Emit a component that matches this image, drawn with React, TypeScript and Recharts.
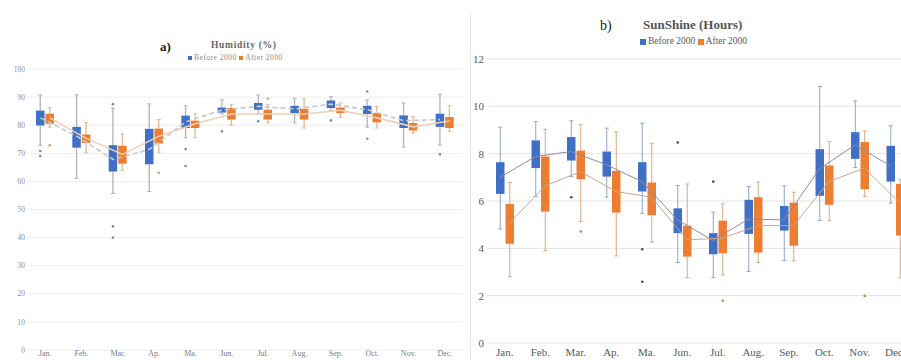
import React from "react";
import { ComposedChart, Bar, Line, XAxis, YAxis, CartesianGrid } from "recharts";

const months = ["Jan.", "Feb.", "Mar.", "Ap.", "Ma.", "Jun.", "Jul.", "Aug.", "Sep.", "Oct.", "Nov.", "Dec."];

// a) Humidity (%)
const humBeforeMin = [72.8, 61.1, 55.7, 56.4, 75.5, 84.0, 84.0, 80.8, 85.2, 79.3, 72.2, 72.9];
const humBeforeQ1 = [79.9, 72.0, 63.5, 66.1, 79.0, 84.5, 85.5, 84.3, 86.1, 84.0, 79.0, 79.4];
const humBeforeQ3 = [85.2, 79.4, 72.9, 78.7, 83.4, 86.3, 87.9, 86.9, 88.8, 86.9, 83.5, 84.1];
const humBeforeMax = [90.8, 90.8, 86.1, 87.6, 86.9, 89.0, 90.8, 89.6, 90.2, 89.0, 87.9, 91.0];
const humBeforeMean = [82.6, 76.1, 67.8, 71.4, 81.2, 85.4, 86.7, 85.8, 87.5, 85.5, 81.6, 82.0];
const humBeforeOut = [[70.8, 69.0], [], [87.5, 44.0, 40.0], [], [71.5, 65.5], [77.8], [81.4], [], [81.7], [92.0, 75.2], [], [69.6]];

const humAfterMin = [79.3, 70.2, 64.0, 70.4, 75.5, 80.0, 80.8, 79.0, 82.8, 79.0, 77.2, 77.8];
const humAfterQ1 = [80.5, 73.7, 66.3, 73.5, 79.0, 82.0, 82.0, 82.0, 84.3, 81.0, 78.1, 79.0];
const humAfterQ3 = [84.1, 76.7, 72.7, 78.8, 81.6, 86.1, 85.5, 85.8, 86.3, 84.3, 80.8, 82.9];
const humAfterMax = [86.3, 81.0, 76.9, 82.0, 84.0, 87.3, 87.3, 89.4, 87.9, 86.7, 83.1, 87.0];
const humAfterMean = [82.6, 75.3, 69.6, 76.1, 80.5, 84.0, 84.0, 84.0, 85.3, 82.6, 79.4, 81.5];
const humAfterOut = [[72.9], [], [], [63.1], [], [], [89.4], [], [], [], [], []];

// b) SunShine (Hours)
const sunBeforeMin = [4.82, 6.19, 7.03, 6.16, 5.48, 3.4, 2.76, 3.02, 3.48, 5.17, 7.41, 5.91];
const sunBeforeQ1 = [6.3, 7.39, 7.71, 7.03, 6.4, 4.64, 3.75, 4.61, 4.75, 6.22, 7.78, 6.82];
const sunBeforeQ3 = [7.64, 8.56, 8.7, 8.09, 7.64, 5.69, 4.64, 6.05, 5.79, 8.19, 8.91, 8.33];
const sunBeforeMax = [9.12, 9.36, 9.39, 9.08, 9.29, 6.65, 5.53, 6.61, 6.64, 10.84, 10.23, 9.18];
const sunBeforeMean = [7.0, 7.88, 8.09, 7.53, 6.82, 5.2, 4.33, 5.24, 5.2, 7.36, 8.37, 7.48];
const sunBeforeOut = [[], [], [6.16], [], [3.96, 2.59], [8.47], [6.82], [], [], [], [], []];

const sunAfterMin = [2.8, 3.9, 5.13, 3.68, 4.26, 2.76, 2.88, 3.4, 3.47, 5.17, 6.19, 2.75];
const sunAfterQ1 = [4.19, 5.55, 6.92, 5.51, 5.4, 3.65, 3.79, 3.82, 4.11, 5.84, 6.5, 4.54];
const sunAfterQ3 = [5.88, 7.88, 8.13, 7.27, 6.78, 4.96, 5.17, 6.16, 5.93, 7.5, 8.49, 6.72];
const sunAfterMax = [6.78, 9.03, 9.22, 8.91, 8.44, 6.72, 5.88, 6.8, 6.37, 8.51, 8.96, 6.9];
const sunAfterMean = [5.06, 6.64, 7.24, 6.4, 6.16, 4.36, 4.43, 4.96, 4.96, 6.82, 7.39, 5.9];
const sunAfterOut = [[], [], [4.71], [], [], [], [1.78], [], [], [], [1.99], []];

const humTicks = [0, 10, 20, 30, 40, 50, 60, 70, 80, 90, 100];
const sunTicks = [0, 2, 4, 6, 8, 10, 12];

const BLUE = "#4070c6";
const ORANGE = "#ed7d31";
const FONT = "'Liberation Serif', 'Times New Roman', serif";

type Stats = { min: number[]; q1: number[]; q3: number[]; max: number[]; mean: number[]; out: number[][] };

function buildRows(b: Stats, a: Stats) {
  return months.map((m, i) => ({
    month: m,
    idx: i,
    bRange: [b.min[i], b.max[i]],
    bMin: b.min[i], bQ1: b.q1[i], bQ3: b.q3[i], bMax: b.max[i], bMean: b.mean[i], bOut: b.out[i],
    aRange: [a.min[i], a.max[i]],
    aMin: a.min[i], aQ1: a.q1[i], aQ3: a.q3[i], aMax: a.max[i], aMean: a.mean[i], aOut: a.out[i],
  }));
}

const humRows = buildRows(
  { min: humBeforeMin, q1: humBeforeQ1, q3: humBeforeQ3, max: humBeforeMax, mean: humBeforeMean, out: humBeforeOut },
  { min: humAfterMin, q1: humAfterQ1, q3: humAfterQ3, max: humAfterMax, mean: humAfterMean, out: humAfterOut }
);
const sunRows = buildRows(
  { min: sunBeforeMin, q1: sunBeforeQ1, q3: sunBeforeQ3, max: sunBeforeMax, mean: sunBeforeMean, out: sunBeforeOut },
  { min: sunAfterMin, q1: sunAfterQ1, q3: sunAfterQ3, max: sunAfterMax, mean: sunAfterMean, out: sunAfterOut }
);

// the range bar spans min..max; everything else is placed on that same linear mapping
function BoxShape(props: any) {
  const { x, y, width, height, payload, pre, fill, whisker, whiskerWidth, dotColor } = props;
  const lo = payload[pre + "Min"];
  const hi = payload[pre + "Max"];
  const top = Math.min(y, y + height);
  const bot = Math.max(y, y + height);
  const py = (v: number) => bot - ((bot - top) * (v - lo)) / (hi - lo);
  const cx = x + width / 2;
  const yq1 = py(payload[pre + "Q1"]);
  const yq3 = py(payload[pre + "Q3"]);
  const outs: number[] = payload[pre + "Out"] || [];
  return (
    <g>
      <line x1={cx} x2={cx} y1={top} y2={yq3} stroke={whisker} strokeWidth={whiskerWidth} />
      <line x1={cx} x2={cx} y1={yq1} y2={bot} stroke={whisker} strokeWidth={whiskerWidth} />
      <line x1={cx - 2} x2={cx + 2} y1={top} y2={top} stroke={whisker} strokeWidth={1} />
      <line x1={cx - 2} x2={cx + 2} y1={bot} y2={bot} stroke={whisker} strokeWidth={1} />
      <rect x={x} y={yq3} width={width} height={yq1 - yq3} fill={fill} />
      {outs.map((v, k) => (
        <circle key={k} cx={cx} cy={py(v)} r={1.3} fill={dotColor} />
      ))}
    </g>
  );
}

const BAR = 8.5;
const GAP = 1;

function Panel(p: {
  rows: any[];
  width: number;
  height: number;
  margin: any;
  yWidth: number;
  plotWidth: number;
  domain: [number, number];
  ticks: number[];
  tickFont: number;
  tickColor: string;
  xFont: number;
  xColor: string;
  xMargin: number;
  yMargin: number;
  grid: string;
  whiskerB: string;
  whiskerA: string;
  whiskerWidth: number;
  dotB: string;
  dotA: string;
  lineB: string;
  lineA: string;
  lineWidth: number;
  dashB?: string;
}) {
  const shift = (BAR + GAP) / 2 / (p.plotWidth / 12);
  return (
    <ComposedChart width={p.width} height={p.height} data={p.rows} margin={p.margin} barGap={GAP}>
      <CartesianGrid xAxisId="cat" vertical={false} stroke={p.grid} />
      <XAxis
        xAxisId="cat"
        dataKey="month"
        interval={0}
        tickLine={false}
        axisLine={false}
        tickSize={0}
        tickMargin={p.xMargin}
        height={20}
        tick={{ fontSize: p.xFont, fill: p.xColor, fontFamily: FONT }}
      />
      <XAxis xAxisId="xb" type="number" dataKey="idx" domain={[-0.5 + shift, 11.5 + shift]} allowDataOverflow hide />
      <XAxis xAxisId="xa" type="number" dataKey="idx" domain={[-0.5 - shift, 11.5 - shift]} allowDataOverflow hide />
      <YAxis
        domain={p.domain}
        ticks={p.ticks}
        interval={0}
        width={p.yWidth}
        tickLine={false}
        axisLine={false}
        tickSize={0}
        tickMargin={p.yMargin}
        tick={{ fontSize: p.tickFont, fill: p.tickColor, fontFamily: FONT }}
      />
      <Bar
        xAxisId="cat"
        dataKey="bRange"
        barSize={BAR}
        fill={BLUE}
        isAnimationActive={false}
        shape={(s: any) => (
          <BoxShape {...s} pre="b" fill={BLUE} whisker={p.whiskerB} whiskerWidth={p.whiskerWidth} dotColor={p.dotB} />
        )}
      />
      <Bar
        xAxisId="cat"
        dataKey="aRange"
        barSize={BAR}
        fill={ORANGE}
        isAnimationActive={false}
        shape={(s: any) => (
          <BoxShape {...s} pre="a" fill={ORANGE} whisker={p.whiskerA} whiskerWidth={p.whiskerWidth} dotColor={p.dotA} />
        )}
      />
      <Line
        xAxisId="xb"
        dataKey="bMean"
        stroke={p.lineB}
        strokeWidth={p.lineWidth}
        strokeDasharray={p.dashB}
        dot={false}
        activeDot={false}
        isAnimationActive={false}
      />
      <Line
        xAxisId="xa"
        dataKey="aMean"
        stroke={p.lineA}
        strokeWidth={p.lineWidth}
        dot={false}
        activeDot={false}
        isAnimationActive={false}
      />
    </ComposedChart>
  );
}

function Swatch({ color, size }: { color: string; size: number }) {
  return (
    <span
      style={{ display: "inline-block", width: size, height: size, background: color, marginRight: 2, verticalAlign: "middle" }}
    />
  );
}

export default function App() {
  const abs = (left: number, top: number, extra: any = {}) => ({
    position: "absolute" as const,
    left,
    top,
    whiteSpace: "nowrap" as const,
    fontFamily: FONT,
    lineHeight: 1,
    ...extra,
  });
  return (
    <div style={{ position: "relative", width: 901, height: 360, overflow: "hidden", background: "#fff" }}>
      <style>{"body{margin:0}"}</style>

      <div style={{ position: "absolute", left: 0, top: 0 }}>
        <Panel
          rows={humRows}
          width={466}
          height={370}
          margin={{ top: 69, right: 3, bottom: 0, left: 0 }}
          yWidth={27}
          plotWidth={436}
          domain={[0, 100]}
          ticks={humTicks}
          tickFont={7.5}
          tickColor="#8c8c8c"
          xFont={8}
          xColor="#7a7a7a"
          xMargin={0}
          yMargin={2}
          grid="#ededed"
          whiskerB="#b3b3b3"
          whiskerA="#e2b896"
          whiskerWidth={1.3}
          dotB="#8a8a8a"
          dotA="#e59a66"
          lineB="#c6c8cc"
          lineA="#efcfb7"
          lineWidth={1.6}
          dashB="5 3"
        />
      </div>
      <div style={abs(160, 40, { fontSize: 13, fontWeight: "bold", color: "#222" })}>a)</div>
      <div style={abs(211, 41, { fontSize: 9.5, fontWeight: "bold", color: "#666", letterSpacing: 0.7 })}>Humidity (%)</div>
      <div style={abs(188, 54, { fontSize: 7.5, color: "#8a8a8a", letterSpacing: 0.5 })}>
        <Swatch color={BLUE} size={4} />
        Before 2000{" "}
        <Swatch color={ORANGE} size={4} />
        After 2000
      </div>

      <div style={{ position: "absolute", left: 470, top: 14, width: 1, height: 346, background: "#e8e8e8" }} />
      <div style={{ position: "absolute", left: 470, top: 0 }}>
        <Panel
          rows={sunRows}
          width={443}
          height={363}
          margin={{ top: 59, right: 0, bottom: 0, left: 0 }}
          yWidth={17}
          plotWidth={426}
          domain={[0, 12]}
          ticks={sunTicks}
          tickFont={11}
          tickColor="#595959"
          xFont={11}
          xColor="#595959"
          xMargin={5}
          yMargin={3}
          grid="#e3e3e3"
          whiskerB="#8fa3c9"
          whiskerA="#d5a986"
          whiskerWidth={1}
          dotB="#404a60"
          dotA="#e07a3a"
          lineB="#8e8e98"
          lineA="#c8a68d"
          lineWidth={1}
        />
      </div>
      <div style={abs(600, 19, { fontSize: 14, color: "#222" })}>b)</div>
      <div style={abs(643, 18, { fontSize: 13, fontWeight: "bold", color: "#555" })}>SunShine (Hours)</div>
      <div style={abs(640, 37, { fontSize: 9.5, color: "#595959" })}>
        <Swatch color={BLUE} size={6} />
        Before 2000{" "}
        <Swatch color={ORANGE} size={6} />
        After 2000
      </div>
    </div>
  );
}
